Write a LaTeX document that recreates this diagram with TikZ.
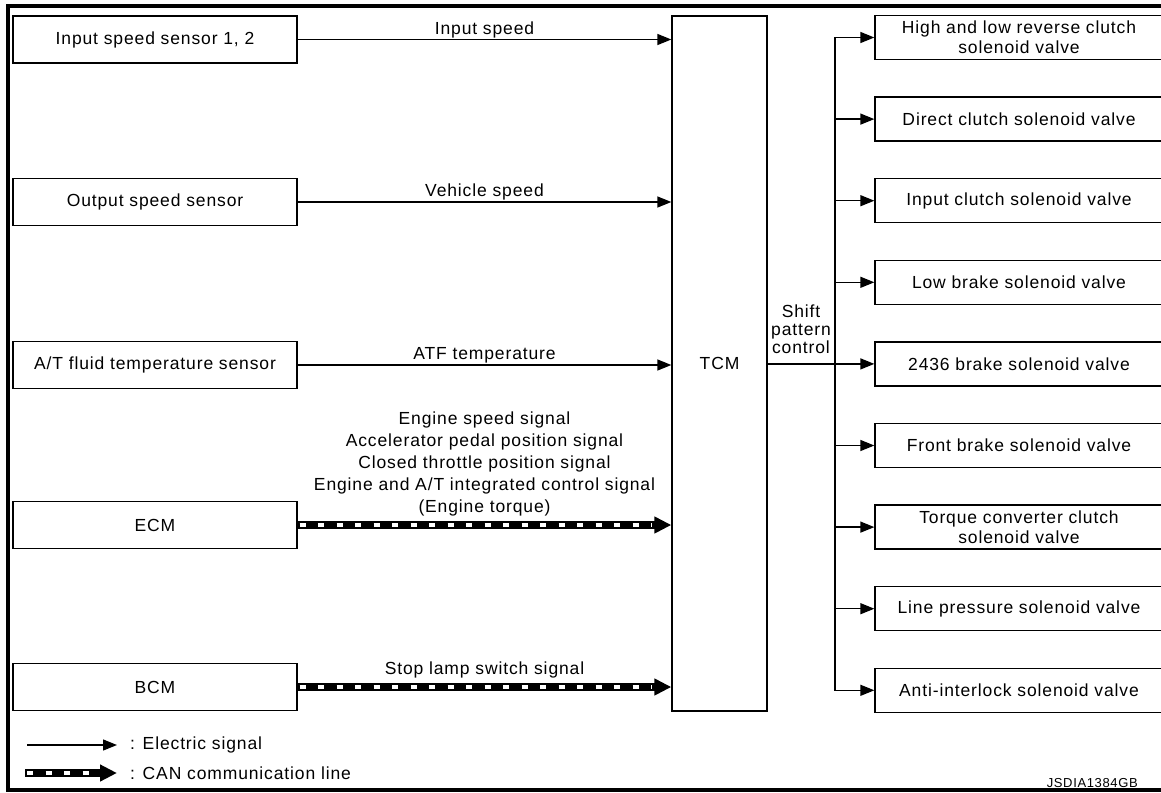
\documentclass[tikz,border=0pt]{standalone}
\usepackage{fontspec}
\setmainfont{Liberation Sans}[LetterSpace=5]
\usetikzlibrary{arrows.meta,positioning}

\begin{document}
\begin{tikzpicture}[
  x=1pt, y=-1pt,
  every node/.style={font=\fontsize{17.5}{22}\selectfont, inner sep=0pt},
  box/.style={draw, line width=1.3pt, minimum width=284pt, minimum height=47pt, align=center},
  valvebox/.style={draw, line width=1.3pt, minimum width=288pt, minimum height=44pt, align=center, font=\fontsize{17.5}{20}\selectfont},
  sig/.style={-{Triangle[length=14pt,width=11pt]}, line width=1.3pt},
  can/.style={-{Triangle[length=17pt,width=16pt]}, line width=8pt,
    postaction={draw=white, -, line width=3.5pt, dash pattern=on 6pt off 12.5pt, shorten <=2pt, shorten >=20pt}},
  lbl/.style={above=1pt},
  canlbl/.style={above=5pt},
  frame/.style={line width=4pt}
]
\useasboundingbox (0,0) rectangle (1161,792);

% outer frame
\draw[frame] (1170,6) -- (8,6) -- (8,790) -- (1170,790);

% inputs
\node[box] (iss) at (155,39.5) {Input speed sensor 1, 2};
\node[box] (oss) at (155,202) {Output speed sensor};
\node[box] (atf) at (155,365) {A/T fluid temperature sensor};
\node[box] (ecm) at (155,525) {ECM};
\node[box] (bcm) at (155,687) {BCM};

\node[draw, line width=1.3pt, minimum width=95pt, minimum height=695pt] (tcm) at (719.5,363.5) {TCM};

% outputs
\foreach \i/\txt in {1/{High and low reverse clutch\\solenoid valve},
                     2/{Direct clutch solenoid valve},
                     3/{Input clutch solenoid valve},
                     4/{Low brake solenoid valve},
                     5/{2436 brake solenoid valve},
                     6/{Front brake solenoid valve},
                     7/{Torque converter clutch\\solenoid valve},
                     8/{Line pressure solenoid valve},
                     9/{Anti-interlock solenoid valve}}
  \node[valvebox] (v\i) at (1019,{37.5+81.6*(\i-1)}) {\txt};

\draw[sig] (iss.east) -- node[lbl] {Input speed} (iss.east -| tcm.west);
\draw[sig] (oss.east) -- node[lbl] {Vehicle speed} (oss.east -| tcm.west);
\draw[sig] (atf.east) -- node[lbl] {ATF temperature} (atf.east -| tcm.west);
\draw[can] (ecm.east) -- node[canlbl, align=center] {Engine speed signal\\Accelerator pedal position signal\\Closed throttle position signal\\Engine and A/T integrated control signal\\(Engine torque)} (ecm.east -| tcm.west);
\draw[can] (bcm.east) -- node[canlbl] {Stop lamp switch signal} (bcm.east -| tcm.west);

% shift pattern control bus
\coordinate (bus) at (835,365);
\node[align=center, font=\fontsize{17.5}{18}\selectfont] (spc) at (801,329) {Shift\\pattern\\control};
\draw[line width=1.3pt, line cap=rect] (bus |- v1.west) -- (bus |- v9.west);
\draw[sig] (tcm.east |- v5.west) -- (v5.west);
\foreach \i in {1,2,3,4,6,7,8,9}
  \draw[sig] (bus |- v\i.west) -- (v\i.west);

% legend
\coordinate (ls1) at (27,745);
\node[anchor=west] (lt1) at (130,745) {: Electric signal};
\draw[sig] (ls1) -- ([xshift=-13pt]lt1.west);
\coordinate (ls2) at (25,773);
\node[anchor=west] (lt2) at (130,773) {: CAN communication line};
\draw[can] (ls2) -- ([xshift=-13pt]lt2.west);

\node[anchor=east, font=\fontsize{13}{14}\selectfont] (ref) at (1138,783) {JSDIA1384GB};
\end{tikzpicture}
\end{document}
